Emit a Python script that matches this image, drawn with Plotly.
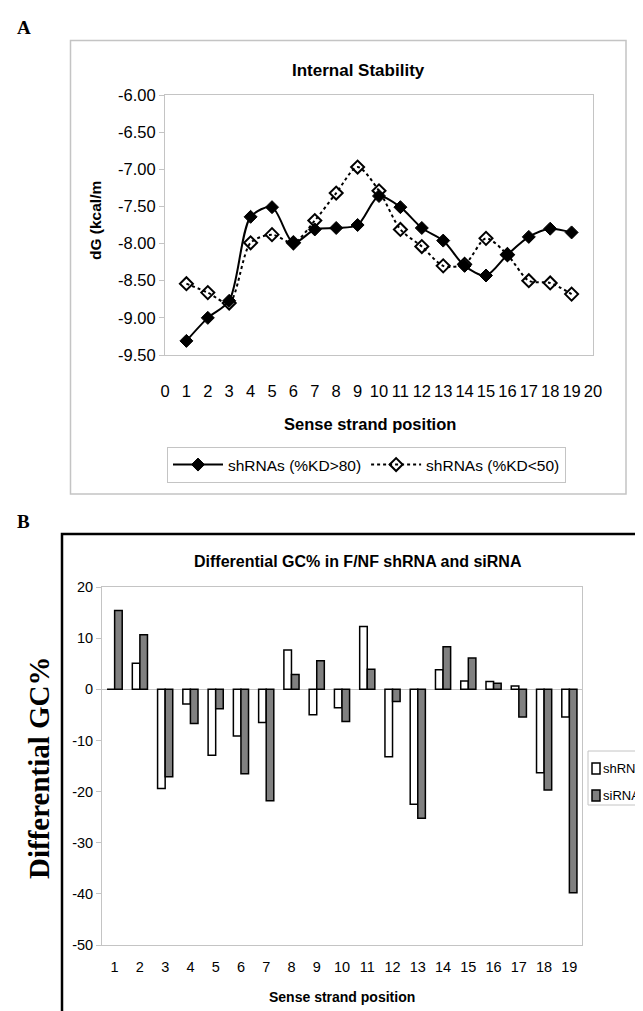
import plotly.graph_objects as go

# ---------------- data ----------------
positions_a = list(range(1, 20))
dg_kd_high = [-9.31, -9.00, -8.77, -7.64, -7.51, -7.99, -7.81, -7.79, -7.75, -7.36,
              -7.51, -7.79, -7.96, -8.30, -8.43, -8.15, -7.91, -7.80, -7.85]
dg_kd_low = [-8.54, -8.66, -8.80, -7.99, -7.88, -7.99, -7.69, -7.32, -6.97, -7.29,
             -7.81, -8.04, -8.30, -8.28, -7.93, -8.15, -8.50, -8.53, -8.68]

positions_b = list(range(1, 20))
gc_shrna = [0, 5.1, -19.4, -2.9, -12.9, -9.15, -6.5, 7.7, -5.0, -3.6,
            12.3, -13.2, -22.5, 3.8, 1.6, 1.5, 0.65, -16.3, -5.4]
gc_sirna = [15.4, 10.65, -17.1, -6.7, -3.8, -16.5, -21.8, 2.9, 5.6, -6.3,
            3.9, -2.4, -25.2, 8.3, 6.1, 1.2, -5.4, -19.7, -39.8]

series_b_names = ["shRNA", "siRNA"]
series_b_colors = ["white", "#808080"]

ticks_a_y = [-9.5, -9.0, -8.5, -8.0, -7.5, -7.0, -6.5, -6.0]
ticklabels_a_y = ["-9.50", "-9.00", "-8.50", "-8.00", "-7.50", "-7.00", "-6.50", "-6.00"]
ticks_a_x = list(range(0, 21))
ticks_b_y = [-50, -40, -30, -20, -10, 0, 10, 20]
ticklabels_b_y = ["-50", "-40", "-30", "-20", "-10", "0", "10", "20"]

# ---------------- layout helpers ----------------
W, H = 643, 1011
def xp(x):
    return x / W
def yp(y):
    return 1 - y / H

SANS = "Liberation Sans, Arial, sans-serif"
SERIF = "Liberation Serif, Times New Roman, serif"
GRAY = "#c4c4c4"

fig = go.Figure()

# Panel A
fig.add_trace(go.Scatter(
    x=positions_a, y=dg_kd_high, name="shRNAs (%KD>80)",
    mode="lines+markers", line=dict(color="black", width=2, shape="spline", smoothing=0.8),
    marker=dict(symbol="diamond", size=10, color="black", line=dict(color="black", width=1)),
    xaxis="x", yaxis="y", legend="legend"))
fig.add_trace(go.Scatter(
    x=positions_a, y=dg_kd_low, name="shRNAs (%KD<50)",
    mode="lines+markers", line=dict(color="black", width=2, dash="dot", shape="spline", smoothing=0.8),
    marker=dict(symbol="diamond-open", size=10, color="black", line=dict(color="black", width=2)),
    xaxis="x", yaxis="y", legend="legend"))

# Panel B
for name, vals, col in zip(series_b_names, [gc_shrna, gc_sirna], series_b_colors):
    fig.add_trace(go.Bar(
        x=positions_b, y=vals, name=name,
        marker=dict(color=col, line=dict(color="black", width=1.5)),
        xaxis="x2", yaxis="y2", showlegend=False))

def ann(text, x, y, size, family=SANS, angle=0, xanchor="center"):
    return dict(text=text, x=xp(x), y=yp(y), xref="paper", yref="paper", showarrow=False,
                xanchor=xanchor, yanchor="middle", textangle=angle, borderpad=0,
                font=dict(family=family, size=size, color="black"))

# legend box for panel B (plotly's legend places text too far from the swatch)
legend_b_shapes = [dict(type="rect", xref="paper", yref="paper", x0=xp(580), x1=xp(660),
                        y0=yp(797), y1=yp(743), line=dict(color=GRAY, width=1),
                        fillcolor="white", layer="above")]
legend_b_ann = []
for i, (name, col) in enumerate(zip(series_b_names, series_b_colors)):
    yc = 760 + 27 * i
    legend_b_shapes.append(dict(type="rect", xref="paper", yref="paper",
                                x0=xp(584), x1=xp(592), y0=yp(yc + 6), y1=yp(yc - 5),
                                line=dict(color="black", width=1.5), fillcolor=col,
                                layer="above"))
    legend_b_ann.append(ann(name, 594, yc, 13, xanchor="left"))

fig.update_layout(
    width=W, height=H,
    margin=dict(l=0, r=0, t=0, b=0, autoexpand=False),
    paper_bgcolor="white", plot_bgcolor="white",
    font=dict(family=SANS, color="black"),
    barmode="group", bargap=0.4, bargroupgap=0,
    xaxis=dict(domain=[xp(157), xp(585)], anchor="y", range=[0, 20],
               tickvals=ticks_a_x, ticks="", showgrid=False, zeroline=False,
               showline=True, mirror=True, linecolor=GRAY, linewidth=1,
               tickfont=dict(size=16.5), ticklabelstandoff=21),
    yaxis=dict(domain=[yp(347), yp(87)], anchor="x", range=[-9.5, -6.0],
               tickvals=ticks_a_y, ticktext=ticklabels_a_y, ticks="outside", ticklen=5,
               tickcolor=GRAY, showgrid=False, zeroline=False,
               showline=True, mirror=True, linecolor=GRAY, linewidth=1,
               tickfont=dict(size=16.5)),
    xaxis2=dict(domain=[xp(94), xp(574)], anchor="y2", range=[0.5, 19.5],
                tickvals=positions_b, ticks="", showgrid=False, zeroline=False,
                showline=True, mirror=True, linecolor=GRAY, linewidth=1,
                tickfont=dict(size=14.5), ticklabelstandoff=9),
    yaxis2=dict(domain=[yp(937), yp(579)], anchor="x2", range=[-50, 20],
                tickvals=ticks_b_y, ticktext=ticklabels_b_y, ticks="outside", ticklen=5,
                tickcolor=GRAY, showgrid=False, zeroline=True, zerolinecolor=GRAY,
                zerolinewidth=1, showline=True, mirror=True, linecolor=GRAY, linewidth=1,
                tickfont=dict(size=14.5)),
    legend=dict(orientation="h", x=xp(159), y=yp(439), xanchor="left", yanchor="top",
                bordercolor=GRAY, borderwidth=1, bgcolor="white",
                font=dict(size=15.5), itemwidth=50, traceorder="normal"),
    shapes=[
        dict(type="rect", xref="paper", yref="paper", x0=xp(62.5), x1=xp(618), y0=yp(486), y1=yp(32.5),
             line=dict(color=GRAY, width=1.5), layer="below"),
        dict(type="rect", xref="paper", yref="paper", x0=xp(54), x1=xp(660), y0=yp(1030), y1=yp(526),
             line=dict(color="black", width=2.5), layer="below"),
    ] + legend_b_shapes,
    annotations=[
        ann("<b>A</b>", 16, 20, 19, SERIF),
        ann("<b>B</b>", 15, 513, 19, SERIF),
        ann("<b>Internal Stability</b>", 350, 62, 17),
        ann("<b>dG (kcal/m</b>", 87, 213, 15.5, angle=-90),
        ann("<b>Sense strand position</b>", 362, 416, 16.5),
        ann("<b>Differential GC% in F/NF shRNA and siRNA</b>", 350, 553, 16),
        ann("<b>Sense strand position</b>", 334, 989, 14),
        ann("<b>Differential GC%</b>", 31, 760, 29, SERIF, angle=-90),
    ] + legend_b_ann,
)

fig.write_html("out.html")
